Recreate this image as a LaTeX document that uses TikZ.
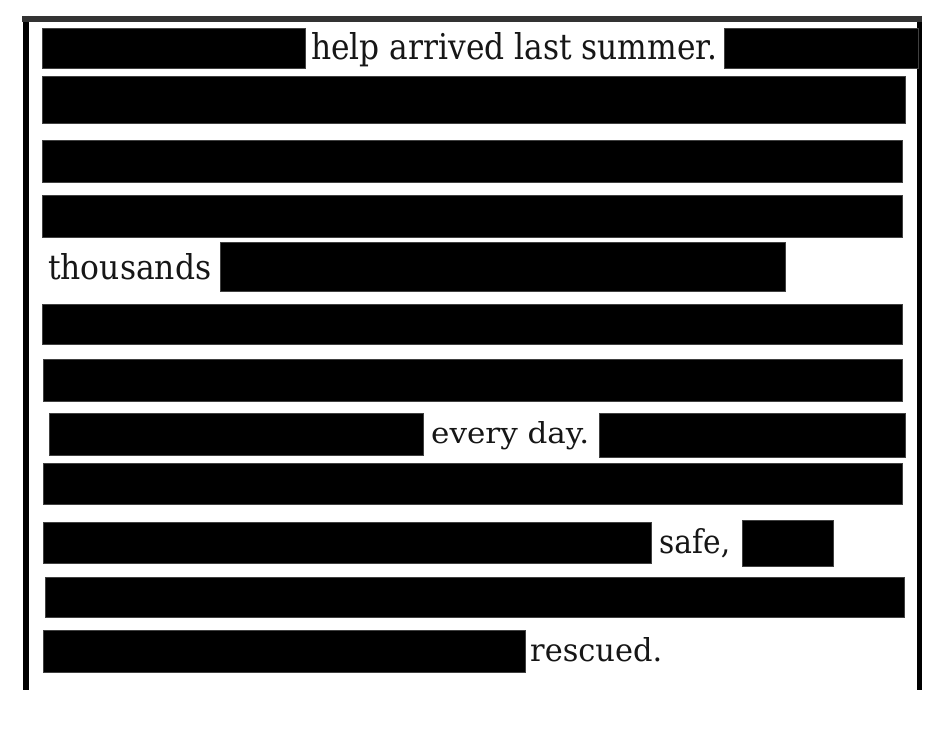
\documentclass[tikz,border=0pt]{standalone}
\usepackage{fontspec}
\setmainfont{DejaVu Serif}
\usepackage{graphicx}
\definecolor{rulegray}{HTML}{333333}
\definecolor{ink}{HTML}{161616}
\tikzset{
  bar/.style={fill=black, draw=black!75, line width=0.6pt},
  word/.style={anchor=base west, inner sep=0pt, text=ink},
}
% squeeze a kept word into the width/height it has on the page
\newcommand{\fitword}[3]{\resizebox{#1pt}{#2pt}{#3}}

\begin{document}
\begin{tikzpicture}[x=1pt, y=-1pt]
    \useasboundingbox (0,0) rectangle (942,738);
    % frame of the page
    \draw[line width=6pt] (25.5,16) -- (25.5,690);
    \draw[line width=5pt] (919.5,16) -- (919.5,690);
    \draw[line width=6pt, rulegray] (22,19) -- (922,19);
    % blacked out text
    \foreach \xa/\ya/\xb/\yb in {42/28/305/68, 724/28/918/68, 42/76/905/123,
        42/140/902/182, 42/195/902/237, 220/242/785/291, 42/304/902/344,
        43/359/902/401, 49/413/423/455, 599/413/905/457, 43/463/902/504,
        43/522/651/563, 742/520/833/566, 45/577/904/617, 43/630/525/672}
    \filldraw[bar] (\xa,\ya) rectangle (\xb,\yb);
    % words left standing
    \node[word] (help) at (311,60) {\fitword{406}{27}{help arrived last summer.}};
    \node[word] (thousands) at (48,279) {\fitword{163}{26}{thousands}};
    \node[word] (everyday) at (431,443) {\fitword{158}{22}{every day.}};
    \node[word] (safe) at (659,553) {\fitword{71}{25}{safe,}};
    \node[word] (rescued) at (530,661) {\fitword{132}{24}{rescued.}};
\end{tikzpicture}
\end{document}
